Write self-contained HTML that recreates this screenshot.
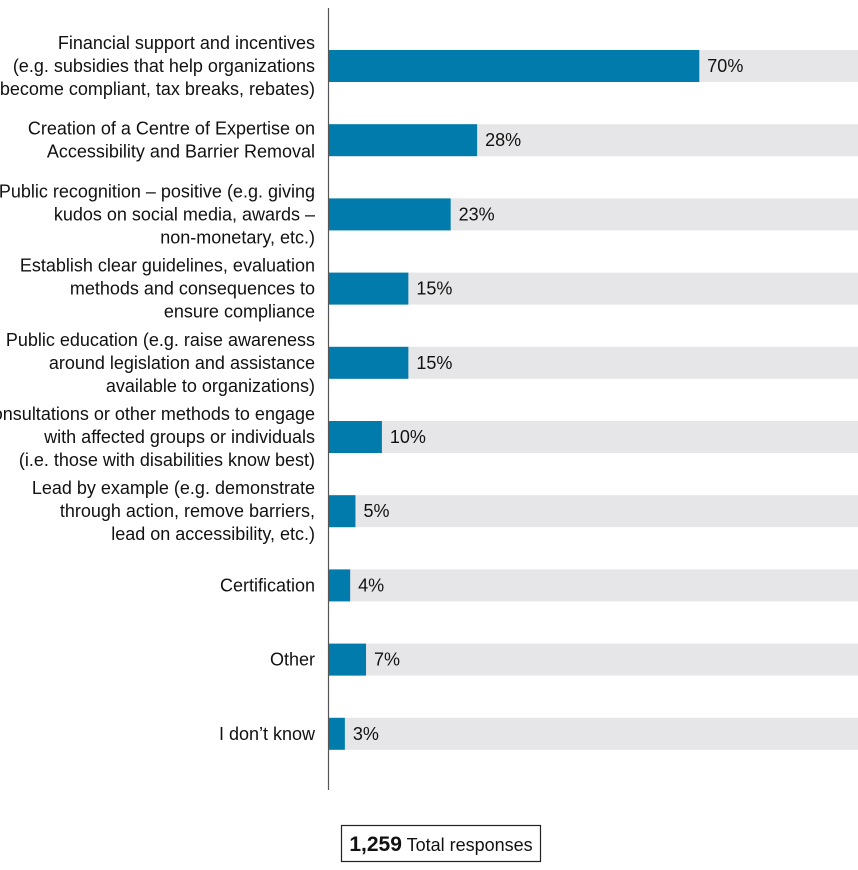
<!DOCTYPE html>
<html><head><meta charset="utf-8"><style>
body{margin:0;background:#fff;}
svg{display:block;font-family:"Liberation Sans Narrow","Liberation Sans",sans-serif;}
</style></head><body>
<svg id="chart" width="858" height="870" xmlns="http://www.w3.org/2000/svg">
<line x1="328.5" y1="8" x2="328.5" y2="790" stroke="#555" stroke-width="1.2"/>
<g id="rows"></g>
<rect x="341.5" y="825.5" width="199" height="36" fill="#fff" stroke="#222" stroke-width="1.2"/>
<text x="441" y="851" text-anchor="middle" font-size="18" fill="#111"><tspan font-weight="bold" font-size="21">1,259</tspan> Total responses</text>
</svg>
<script>
const categories = [
 ["Financial support and incentives","(e.g. subsidies that help organizations","become compliant, tax breaks, rebates)"],
 ["Creation of a Centre of Expertise on","Accessibility and Barrier Removal"],
 ["Public recognition – positive (e.g. giving","kudos on social media, awards –","non-monetary, etc.)"],
 ["Establish clear guidelines, evaluation","methods and consequences to","ensure compliance"],
 ["Public education (e.g. raise awareness","around legislation and assistance","available to organizations)"],
 ["Consultations or other methods to engage","with affected groups or individuals","(i.e. those with disabilities know best)"],
 ["Lead by example (e.g. demonstrate","through action, remove barriers,","lead on accessibility, etc.)"],
 ["Certification"],
 ["Other"],
 ["I don’t know"]
];
const values = [70,28,23,15,15,10,5,4,7,3];
const valueLabels = ["70%","28%","23%","15%","15%","10%","5%","4%","7%","3%"];
const maxValue = 100;

const x0 = 329, plotW = 529, rowTop = 50, rowStep = 74.2, barH = 32;
const xScale = v => x0 + v / maxValue * plotW;
const yScale = i => rowTop + i * rowStep;
const ns = "http://www.w3.org/2000/svg";
const g = document.getElementById("rows");
function mk(tag, attrs){const e=document.createElementNS(ns,tag);for(const k in attrs)e.setAttribute(k,attrs[k]);return e;}
values.forEach((v,i)=>{
  const y = yScale(i);
  const bg = mk("rect",{x:x0,y:y,width:plotW,height:barH,fill:"#e6e6e8"});
  
  
  g.appendChild(bg);
  const bar = mk("rect",{x:x0,y:y,width:xScale(v)-x0,height:barH,fill:"#007bab"});
  
  
  g.appendChild(bar);
  const vl = mk("text",{x:xScale(v)+8,y:y+barH/2+6,"font-size":18,fill:"#111"});
  vl.textContent = valueLabels[i];
  
  
  g.appendChild(vl);
  const lines = categories[i];
  const lab = mk("text",{x:315,"font-size":18,fill:"#111","text-anchor":"end"});
  
  
  const cy = y+barH/2+6 - (lines.length-1)*23/2;
  lines.forEach((t,j)=>{const ts=mk("tspan",{x:315,y:cy+j*23});ts.textContent=t;lab.appendChild(ts);});
  g.appendChild(lab);
});
</script>
</body></html>
